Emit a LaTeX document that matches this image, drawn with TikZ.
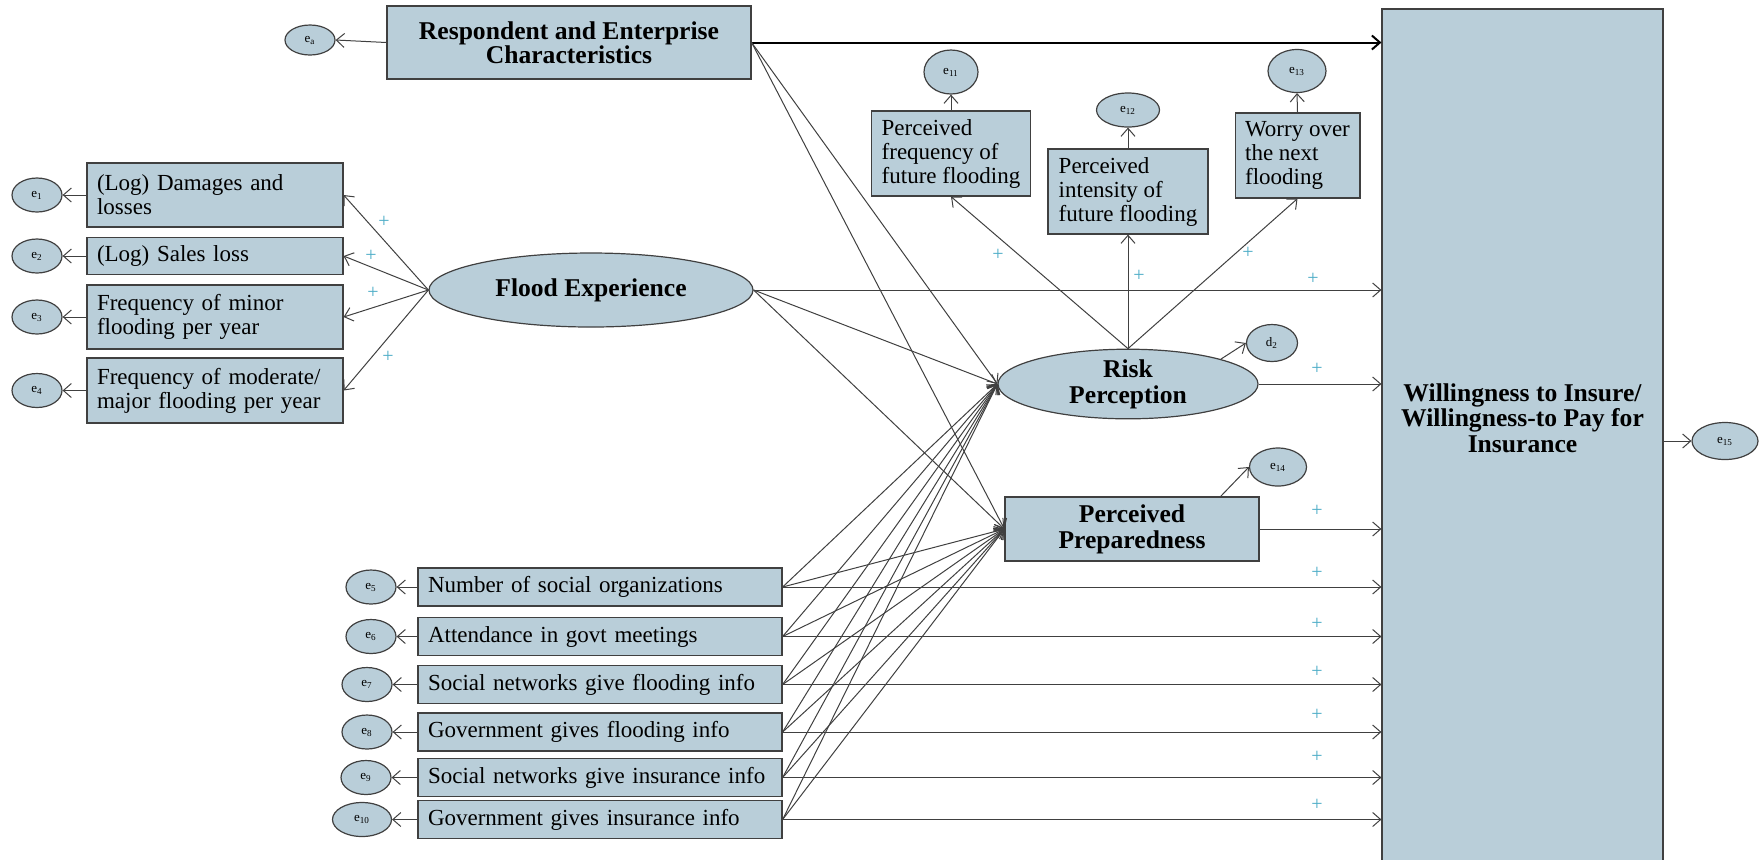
\documentclass[tikz,border=0pt]{standalone}
\usepackage{fontspec}
\setmainfont{Liberation Serif}
\usetikzlibrary{shapes.geometric,arrows.meta,calc}
\definecolor{boxblue}{RGB}{185,206,217}
\definecolor{linegray}{RGB}{64,64,64}
\definecolor{plusteal}{RGB}{75,172,198}
\tikzset{
  box/.style={draw=linegray, fill=boxblue, line width=0.6pt, inner xsep=5pt, inner ysep=0pt,
    align=left, font=\fontsize{11.5}{12}\selectfont},
  latent/.style={draw=linegray, fill=boxblue, line width=0.6pt, ellipse, inner sep=0pt,
    align=center, font=\fontsize{12.8}{13}\selectfont\bfseries},
  err/.style={draw=linegray, fill=boxblue, line width=0.6pt, ellipse, inner sep=0pt,
    minimum width=25pt, minimum height=17pt, font=\fontsize{6.5}{7}\selectfont},
  conn/.style={draw=linegray, line width=0.5pt, -{Straight Barb[length=4pt,width=7pt]}},
  sign/.style={text=plusteal, inner sep=0pt, font=\fontsize{10}{10}\selectfont},
}

\begin{document}
\begin{tikzpicture}[x=0.5pt,y=-0.5pt]
\clip (0,0) rectangle (1760,859);

% outcome
\node[box, minimum width=140.5pt, minimum height=428pt] (wti) at (1522.5,437) {};
\node[align=center, inner sep=0pt, font=\fontsize{12.8}{12.8}\selectfont\bfseries] (wtitext) at (1522.5,418)
  {Willingness to Insure/\\Willingness-to Pay for\\Insurance};
\node[err, minimum width=33pt, minimum height=18.5pt] (e15) at (1725,441) {e\textsubscript{15}};

% respondent block
\node[box, align=center, font=\fontsize{12.8}{11.8}\selectfont\bfseries, minimum width=182pt,
  minimum height=36.5pt] (rec) at (569,42.5) {Respondent and Enterprise\\Characteristics};
\node[err, minimum height=15pt] (ea) at (310,40) {e\textsubscript{a}};

% flood experience and its indicators
\node[latent, minimum width=162pt, minimum height=37pt] (fexp) at (591,290) {Flood Experience};
\foreach \n/\y/\h/\t in {1/195/32/{(Log) Damages and\\losses},
    2/256/18.5/{(Log) Sales loss},
    3/317/32/{Frequency of minor\\flooding per year},
    4/390.5/32.5/{Frequency of moderate/\\major flooding per year}} {
  \node[box, text width=118pt, minimum height=\h pt] (flood\n) at (215,\y) {\t};
  \node[err] (e\n) at (37,\y) {e\textsubscript{\n}};
  \draw[conn] (fexp.west) -- (flood\n.east);
  \draw[conn] (flood\n.west) -- (e\n.east);
}

% risk perception and its indicators
\node[latent, minimum width=130pt, minimum height=33pt] (risk) at (1128,384) {Risk\\Perception};
\node[err, minimum width=25.5pt, minimum height=18.5pt] (d2) at (1272,343) {d\textsubscript{2}};
\node[box, minimum width=78pt, minimum height=42.5pt] (pfreq) at (951,153.5)
  {Perceived\\frequency of\\future flooding};
\node[box, minimum width=80pt, minimum height=42.5pt] (pint) at (1128,191.5)
  {Perceived\\intensity of\\future flooding};
\node[box, minimum width=61.5pt, minimum height=42.5pt] (worry) at (1297.5,155.5)
  {Worry over\\the next\\flooding};
\node[err, minimum width=27pt, minimum height=22pt] (e11) at (951,72) {e\textsubscript{11}};
\node[err, minimum width=31.5pt, minimum height=17pt] (e12) at (1128,110) {e\textsubscript{12}};
\node[err, minimum width=29pt, minimum height=21.5pt] (e13) at (1297,71) {e\textsubscript{13}};

% preparedness
\node[box, align=center, font=\fontsize{12.8}{13}\selectfont\bfseries, minimum width=127pt,
  minimum height=32pt] (prep) at (1132,529) {Perceived\\Preparedness};
\node[err, minimum width=28.5pt, minimum height=19pt] (e14) at (1278,467) {e\textsubscript{14}};

% social capital and information
\foreach \n/\y/\ex/\ew/\t in {1/587/371/25/Number of social organizations,
    2/636.5/371/25/Attendance in govt meetings,
    3/684.5/367/25/Social networks give flooding info,
    4/732/367/25/Government gives flooding info,
    5/777.5/366/25/Social networks give insurance info,
    6/819.5/362/29.5/Government gives insurance info} {
  \pgfmathtruncatemacro\k{\n+4}
  \node[box, text width=172pt, minimum height=19pt] (soc\n) at (600,\y) {\t};
  \node[err, minimum width=\ew pt] (e\k) at (\ex,\y) {e\textsubscript{\k}};
  \draw[conn] (soc\n.west) -- (e\k.east);
  \draw[conn] (soc\n.east) -- (risk.west);
  \draw[conn] (soc\n.east) -- (prep.west);
  \draw[conn] (soc\n.east) -- (soc\n.east -| wti.west);
}

% structural paths
\draw[conn] (rec.west) -- (ea.east);
\draw[conn, draw=black, line width=1pt] (rec.east) -- (rec.east -| wti.west);
\draw[conn] (rec.east) -- (risk.west);
\draw[conn] (rec.east) -- (prep.west);
\draw[conn] (fexp.east) -- (fexp.east -| wti.west);
\draw[conn] (fexp.east) -- (risk.west);
\draw[conn] (fexp.east) -- (prep.west);
\draw[conn] (risk.north) -- (pfreq.south);
\draw[conn] (risk.north) -- (pint.south);
\draw[conn] (risk.north) -- (worry.south);
\draw[conn] (pfreq.north) -- (e11.south);
\draw[conn] (pint.north) -- (e12.south);
\draw[conn] (worry.north) -- (e13.south);
\draw[conn] (risk.15) -- (d2.west);
\draw[conn] ($(prep.north east)+(-39,0)$) -- (e14.west);
\draw[conn] (risk.east) -- (risk.east -| wti.west);
\draw[conn] (prep.east) -- (prep.east -| wti.west);
\draw[conn] (wti.east |- e15.west) -- (e15.west);

% signs
\foreach \x/\y [count=\i] in {384/222, 371/256, 373/293, 388/357, 998/255, 1139/276, 1248/253,
    1313/279, 1317/369, 1317/511, 1317/573, 1317/624, 1317/672, 1317/715, 1317/757, 1317/805}
  \node[sign] (plus\i) at (\x,\y) {+};
\end{tikzpicture}
\end{document}
